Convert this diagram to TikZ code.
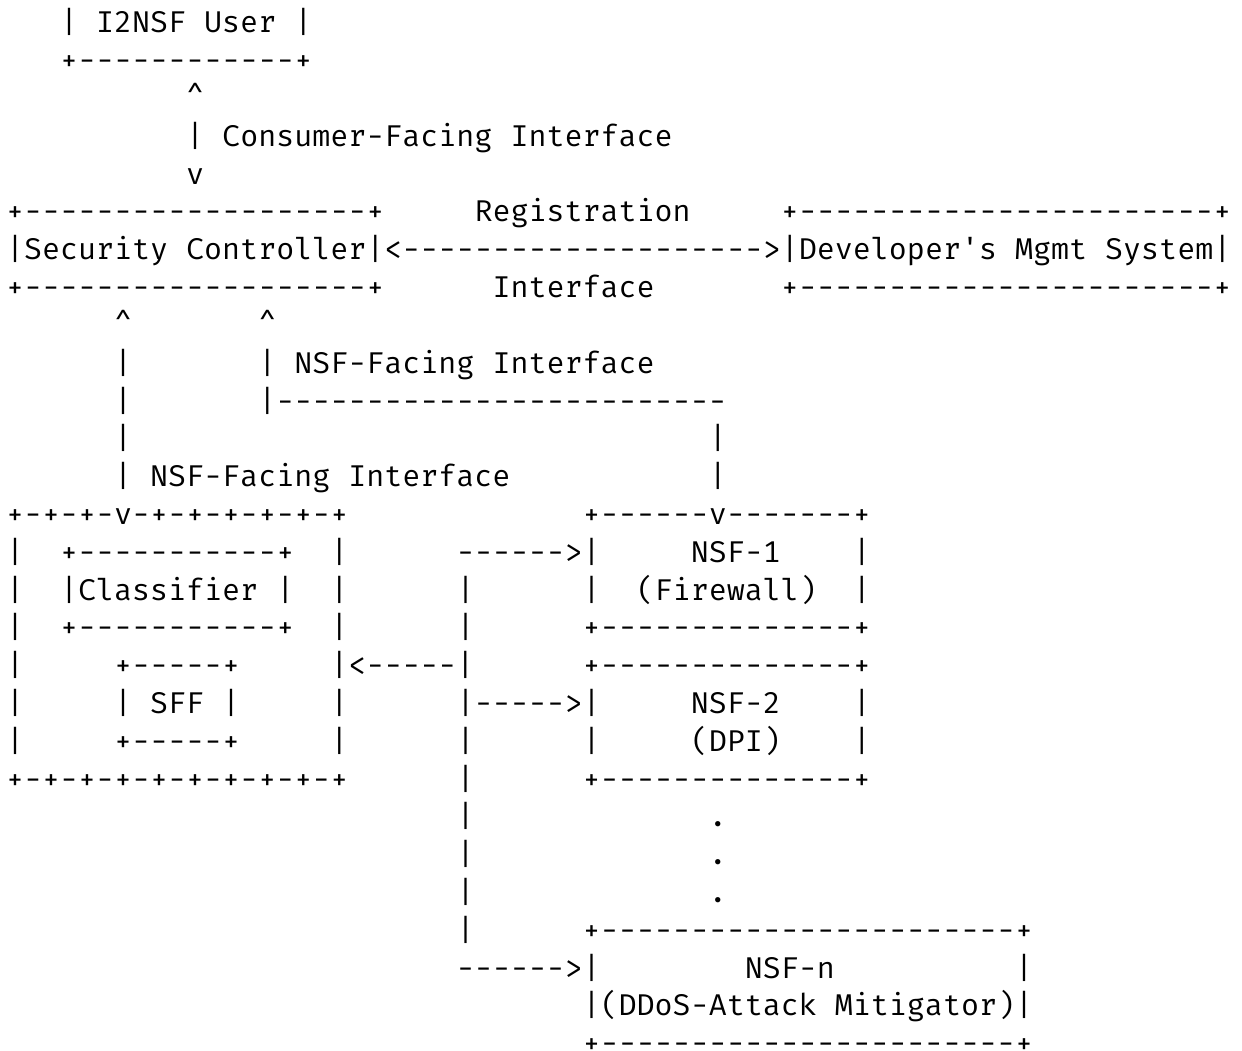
\documentclass[tikz,border=0pt]{standalone}
\usepackage{fontspec}
\newfontfamily\ascfont{Fira Mono}
\tikzset{
  txt/.style={anchor=base west, inner sep=0pt, outer sep=0pt, text=black,
    font=\ascfont\fontsize{30.03pt}{36pt}\selectfont\frenchspacing}
}
\newcommand\gl[4]{\node[txt] (#1) at ({6pt+#2*18.02pt},{-33pt-(#3-1)*37.8pt}) {#4};}
\begin{document}
\begin{tikzpicture}
\useasboundingbox (0,0) rectangle (1242pt,-1051pt);
% I2NSF User
\gl{user}{3}{1}{| I2NSF User |}
\gl{userbot}{3}{2}{+------------+}
\gl{cfup}{10}{3}{\textasciicircum}
\gl{cfi}{10}{4}{| Consumer-Facing Interface}
\gl{cfdown}{10}{5}{v}
% Security controller row
\gl{sctop}{0}{6}{+-------------------+}
\gl{reg}{26}{6}{Registration}
\gl{dmtop}{43}{6}{+-----------------------+}
\gl{sc}{0}{7}{|Security Controller|}
\gl{regarrow}{21}{7}{<-------------------->}
\gl{dm}{43}{7}{|Developer's Mgmt System|}
\gl{scbot}{0}{8}{+-------------------+}
\gl{regif}{27}{8}{Interface}
\gl{dmbot}{43}{8}{+-----------------------+}
% NSF-facing interfaces
\gl{upa}{6}{9}{\textasciicircum}
\gl{upb}{14}{9}{\textasciicircum}
\gl{va1}{6}{10}{|}
\gl{nsfifb}{14}{10}{| NSF-Facing Interface}
\gl{va2}{6}{11}{|}
\gl{hb}{14}{11}{|-------------------------}
\gl{va3}{6}{12}{|}
\gl{vb1}{39}{12}{|}
\gl{nsfifa}{6}{13}{| NSF-Facing Interface}
\gl{vb2}{39}{13}{|}
% SFC box and NSF-1
\gl{sfctop}{0}{14}{+-+-+-v-+-+-+-+-+-+}
\gl{nsfatop}{32}{14}{+------v-------+}
\gl{l15}{0}{15}{|}
\gl{cltop}{3}{15}{+-----------+}
\gl{r15}{18}{15}{|}
\gl{arra}{25}{15}{------>|}
\gl{nsfa}{38}{15}{NSF-1}
\gl{nsfar1}{47}{15}{|}
\gl{l16}{0}{16}{|}
\gl{cl}{3}{16}{|Classifier |}
\gl{r16}{18}{16}{|}
\gl{bus16}{25}{16}{|}
\gl{nsfal2}{32}{16}{|}
\gl{nsfasub}{35}{16}{(Firewall)}
\gl{nsfar2}{47}{16}{|}
\gl{l17}{0}{17}{|}
\gl{clbot}{3}{17}{+-----------+}
\gl{r17}{18}{17}{|}
\gl{bus17}{25}{17}{|}
\gl{nsfabot}{32}{17}{+--------------+}
% SFF and NSF-2
\gl{l18}{0}{18}{|}
\gl{sfftop}{6}{18}{+-----+}
\gl{back}{18}{18}{|<-----|}
\gl{nsfbtop}{32}{18}{+--------------+}
\gl{l19}{0}{19}{|}
\gl{sff}{6}{19}{| SFF |}
\gl{r19}{18}{19}{|}
\gl{arrb}{25}{19}{|----->|}
\gl{nsfb}{38}{19}{NSF-2}
\gl{nsfbr1}{47}{19}{|}
\gl{l20}{0}{20}{|}
\gl{sffbot}{6}{20}{+-----+}
\gl{r20}{18}{20}{|}
\gl{bus20}{25}{20}{|}
\gl{nsfbl2}{32}{20}{|}
\gl{nsfbsub}{38}{20}{(DPI)}
\gl{nsfbr2}{47}{20}{|}
\gl{sfcbot}{0}{21}{+-+-+-+-+-+-+-+-+-+}
\gl{bus21}{25}{21}{|}
\gl{nsfbbot}{32}{21}{+--------------+}
% dots
\gl{bus22}{25}{22}{|}
\gl{dot1}{39}{22}{.}
\gl{bus23}{25}{23}{|}
\gl{dot2}{39}{23}{.}
\gl{bus24}{25}{24}{|}
\gl{dot3}{39}{24}{.}
% NSF-n
\gl{bus25}{25}{25}{|}
\gl{nsfntop}{32}{25}{+-----------------------+}
\gl{arrn}{25}{26}{------>|}
\gl{nsfn}{41}{26}{NSF-n}
\gl{nsfnr1}{56}{26}{|}
\gl{nsfnsub}{32}{27}{|(DDoS-Attack Mitigator)|}
\gl{nsfnbot}{32}{28}{+-----------------------+}
\end{tikzpicture}
\end{document}
